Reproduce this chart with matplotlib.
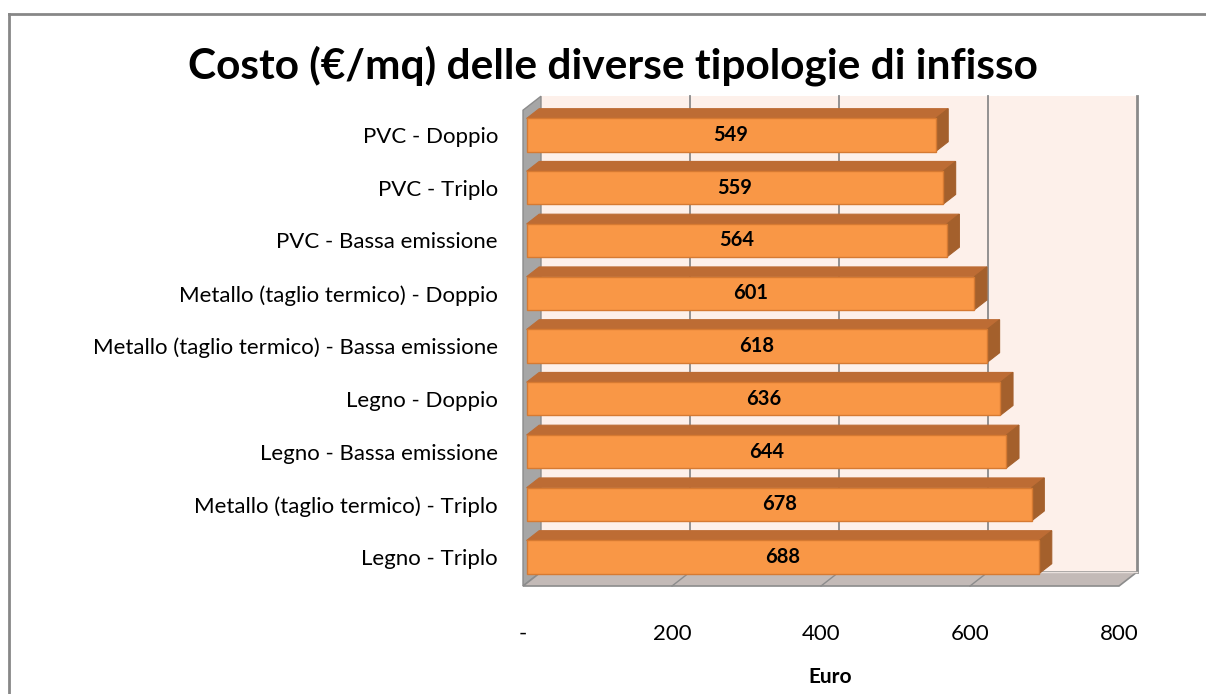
import matplotlib
matplotlib.use("Agg")
import matplotlib.pyplot as plt
from matplotlib.patches import Polygon
from matplotlib.lines import Line2D

plt.rcParams['font.family'] = ['Lato', 'DejaVu Sans']

categories = [
    "PVC - Doppio",
    "PVC - Triplo",
    "PVC - Bassa emissione",
    "Metallo (taglio termico) - Doppio",
    "Metallo (taglio termico) - Bassa emissione",
    "Legno - Doppio",
    "Legno - Bassa emissione",
    "Metallo (taglio termico) - Triplo",
    "Legno - Triplo",
]
costs = [549, 559, 564, 601, 618, 636, 644, 678, 688]
xticks = [0, 200, 400, 600, 800]
xtick_labels = ["-", "200", "400", "600", "800"]

W, H = 1206, 694
fig = plt.figure(figsize=(W / 100, H / 100), dpi=100)
fig.patch.set_facecolor("white")

# axes placed in pixel terms; front plane: 0 -> x=523px, 800 -> x=1119px
SX = 596 / 800.0
PY = 52.75
ax_l, ax_r, ax_t, ax_b = 500, 1160, 90, 600
ax = fig.add_axes([ax_l / W, 1 - ax_b / H, (ax_r - ax_l) / W, (ax_b - ax_t) / H])
ax.set_xlim((ax_l - 523) / SX, (ax_r - 523) / SX)
ax.set_ylim((ax_b - 135) / PY, (ax_t - 135) / PY)
ax.set_facecolor("none")
for s in ax.spines.values():
    s.set_visible(False)

DX = 18 / SX      # depth offset in data units
DY = 14 / PY
xmax = xticks[-1]
y_top, y_bot = -0.47, 8.55   # front edges of walls

grid_c = "#8a8a8a"
wall_c = "#fdf0ea"
side_c = "#a6a6a6"
floor_c = "#c3bab7"

# back wall
ax.add_patch(Polygon([(DX, y_top - DY), (xmax + DX, y_top - DY),
                      (xmax + DX, y_bot - DY), (DX, y_bot - DY)],
                     closed=True, fc=wall_c, ec="none", zorder=1))
# left wall
ax.add_patch(Polygon([(0, y_top), (DX, y_top - DY), (DX, y_bot - DY), (0, y_bot)],
                     closed=True, fc=side_c, ec="#8c8c8c", lw=1, zorder=2))
# floor
ax.add_patch(Polygon([(0, y_bot), (DX, y_bot - DY), (xmax + DX, y_bot - DY), (xmax, y_bot)],
                     closed=True, fc=floor_c, ec="#8c8c8c", lw=1.2, zorder=2))
ax.plot([DX, xmax + DX], [y_bot - DY, y_bot - DY], color="#e8e0dc", lw=1, zorder=2.1)

# gridlines on back wall and floor
for v in xticks[1:]:
    ax.plot([v + DX, v + DX], [y_top - DY, y_bot - DY], color=grid_c, lw=1.3 if v < xmax else 2, zorder=1.5)
    if v < xmax:
        ax.plot([v + DX, v], [y_bot - DY, y_bot], color="#8c8c8c", lw=1, zorder=2.2)

# bars
h = 0.626
d0, d1 = 0.2, 0.7
front_c = "#f99746"
top_c = "#bd6c34"
right_c = "#a4602c"
edge_c = "#d67a32"
ys = list(range(len(categories)))
x0 = d0 * DX
ax.barh(ys, costs, left=x0, height=h, color=front_c, edgecolor=edge_c, lw=1, zorder=5)
for y, v in zip(ys, costs):
    yt = y - h / 2
    yb = y + h / 2
    ax.add_patch(Polygon([(x0, yt), (x0 + v, yt), (x0 + v + d1 * DX, yt - d1 * DY),
                          (x0 + d1 * DX, yt - d1 * DY)],
                         closed=True, fc=top_c, ec=top_c, lw=0.8, zorder=4))
    ax.add_patch(Polygon([(x0 + v, yt), (x0 + v, yb), (x0 + v + d1 * DX, yb - d1 * DY),
                          (x0 + v + d1 * DX, yt - d1 * DY)],
                         closed=True, fc=right_c, ec=right_c, lw=0.8, zorder=4))
    ax.text(x0 + v / 2, y, str(v), ha="center", va="center", fontsize=14.5,
            fontweight="bold", color="black", zorder=6)

ax.set_yticks(ys)
ax.set_yticklabels(categories, fontsize=16)
ax.tick_params(axis="y", length=0, pad=1.5)
ax.set_xticks(xticks)
ax.set_xticklabels(xtick_labels, fontsize=16)
ax.tick_params(axis="x", length=0, pad=17)
ax.set_xlabel("Euro", fontsize=15, fontweight="bold", labelpad=17)

fig.text(613 / W, 1 - 66 / H, "Costo (€/mq) delle diverse tipologie di infisso",
         ha="center", va="center", fontsize=30.5, fontweight="bold")

# chart border
fig.add_artist(Line2D([9 / W, 9 / W], [0, 1 - 14 / H], color="#878787", lw=2))
fig.add_artist(Line2D([9 / W, 1], [1 - 14 / H, 1 - 14 / H], color="#878787", lw=2))

fig.savefig("out.png", dpi=100)
